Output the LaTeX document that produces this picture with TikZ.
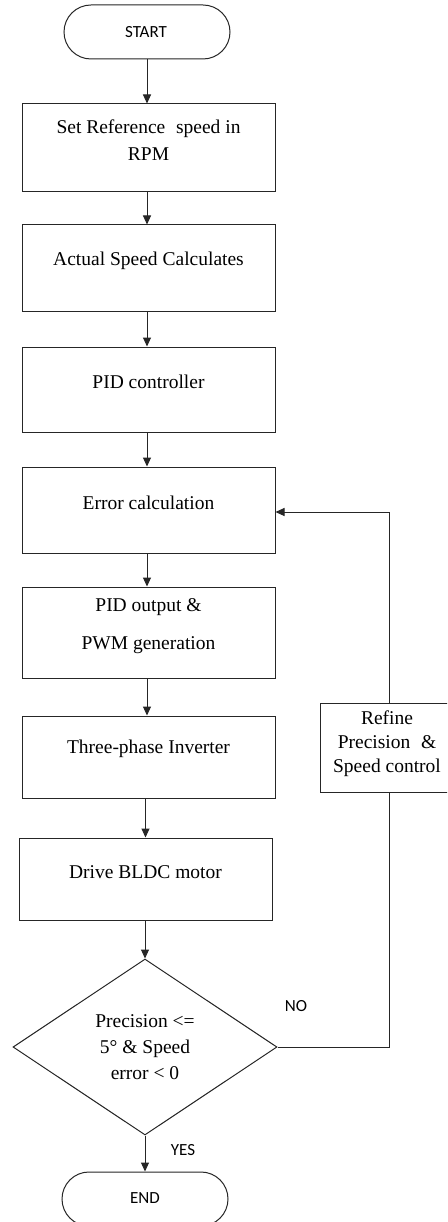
\documentclass[tikz,border=0pt]{standalone}
\usepackage{fontspec}
\setmainfont{Liberation Serif}
\newfontfamily\lblfont{Carlito}
\usetikzlibrary{arrows.meta,shapes.geometric}
\tikzset{
  ln/.style={line width=1pt, draw=black!85},
  arr/.style={ln, -{Triangle[length=9pt,width=8pt]}},
  term/.style={ln, rectangle, rounded corners=27pt, minimum width=166pt, minimum height=54pt, inner sep=0pt},
  procbox/.style={ln, rectangle, minimum width=253pt, inner sep=0pt},
  decide/.style={ln, diamond, minimum width=264pt, minimum height=176pt, inner sep=0pt},
  txt/.style={inner sep=0pt, align=center, font=\fontsize{19.5}{27}\selectfont},
  lbl/.style={inner sep=0pt, font=\lblfont\fontsize{17}{20}\selectfont}
}
\begin{document}
\begin{tikzpicture}[x=1pt,y=-1pt]
\clip (0,0) rectangle (447,1222);
\fill[white] (0,0) rectangle (447,1222);

\node[term] (start) at (147,32) {};
\node[lbl] (tstart) at (146,32) {START};

\node[procbox, minimum height=88pt] (b1) at (148.5,148) {};
\node[txt] (t1) at (148.5,140) {Set Reference\hspace{0.3em} speed in\\RPM};

\node[procbox, minimum height=86pt] (b2) at (148.5,268) {};
\node[txt] (t2) at (148.5,261) {Actual Speed Calculates};

\node[procbox, minimum height=85pt] (b3) at (148.5,389.5) {};
\node[txt] (t3) at (148.5,382) {PID controller};

\node[procbox, minimum height=86pt] (b4) at (148.5,510) {};
\node[txt] (t4) at (148.5,503) {Error calculation};

\node[procbox, minimum height=91pt] (b5) at (148.5,632.5) {};
\node[txt, font=\fontsize{19.5}{38}\selectfont] (t5) at (148.5,626) {PID output \&\\PWM generation};

\node[procbox, minimum height=82pt] (b6) at (148.5,757) {};
\node[txt] (t6) at (148.5,749) {Three-phase Inverter};

\node[procbox, minimum height=82pt] (b7) at (145.5,879) {};
\node[txt] (t7) at (145.5,872) {Drive BLDC motor};

\node[decide] (dec) at (145,1047) {};
\node[txt, font=\fontsize{19.5}{26}\selectfont] (tdec) at (145,1047) {Precision <=\\5° \& Speed\\error < 0};

\node[ln, rectangle, minimum width=160pt, minimum height=89pt, inner sep=0pt] (ref) at (400,747.5) {};
\node[txt, font=\fontsize{19.5}{24}\selectfont] (tref) at (387,744) {Refine\\Precision\hspace{0.3em} \&\\Speed control};
\coordinate (fbx) at (389,0);

\node[term] (end) at (145,1199) {};
\node[lbl] (tend) at (145,1198) {END};

\node[lbl] (no) at (296,1006) {NO};
\node[lbl] (yes) at (183,1150) {YES};

\draw[arr] (start.south) -- (start.south |- b1.north);
\draw[arr] (start.south |- b1.south) -- (start.south |- b2.north);
\draw[arr] (start.south |- b2.south) -- (start.south |- b3.north);
\draw[arr] (start.south |- b3.south) -- (start.south |- b4.north);
\draw[arr] (start.south |- b4.south) -- (start.south |- b5.north);
\draw[arr] (start.south |- b5.south) -- (start.south |- b6.north);
\draw[arr] (b7.north |- b6.south) -- (b7.north);
\draw[arr] (dec.north |- b7.south) -- (dec.north);
\draw[arr] (dec.south) -- (end.north);

\draw[ln] (dec.east) -| (fbx |- ref.south);
\draw[arr] (fbx |- ref.north) |- (b4.east |- 0,512);
\end{tikzpicture}
\end{document}
